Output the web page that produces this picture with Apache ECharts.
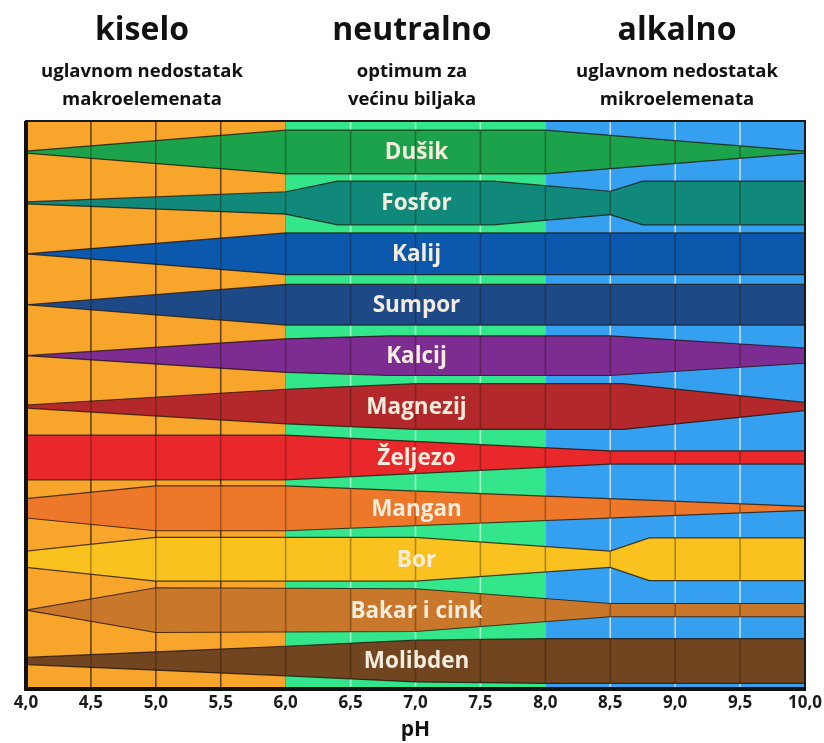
<!DOCTYPE html>
<html><head><meta charset="utf-8">
<script src="https://cdn.jsdelivr.net/npm/echarts@6/dist/echarts.min.js"></script>
<style>html,body{margin:0;padding:0;background:#fff}#c{width:824px;height:743px}</style>
</head><body><div id="c"></div>
<script>
// ---- data ----
const nutrients = ['Dušik','Fosfor','Kalij','Sumpor','Kalcij','Magnezij','Željezo','Mangan','Bor','Bakar i cink','Molibden'];
// [pH, half-width of availability band (fraction of a row)]
const profDusik    = [[4,0.02],[6,0.43],[8,0.43],[10,0.02]];
const profFosfor   = [[4,0.02],[6,0.22],[6.4,0.43],[7.6,0.43],[8.5,0.23],[8.75,0.43],[10,0.43]];
const profKalij    = [[4,0.0],[6,0.41],[10,0.41]];
const profSumpor   = [[4,0.0],[6,0.40],[10,0.40]];
const profKalcij   = [[4,0.0],[6,0.33],[6.8,0.39],[8.5,0.39],[10,0.15]];
const profMagnezij = [[4,0.03],[6,0.34],[7,0.45],[8.6,0.45],[10,0.08]];
const profZeljezo  = [[4,0.44],[6,0.44],[8.5,0.13],[10,0.13]];
const profMangan   = [[4,0.19],[5,0.44],[6,0.44],[10,0.04]];
const profBor      = [[4,0.16],[5,0.43],[7,0.43],[8.5,0.16],[8.8,0.42],[10,0.42]];
const profBakar    = [[4,0.0],[5,0.44],[7,0.42],[8.5,0.13],[10,0.13]];
const profMolibden = [[4,0.07],[5,0.18],[6,0.29],[7,0.41],[8,0.44],[10,0.44]];
const profiles = [profDusik,profFosfor,profKalij,profSumpor,profKalcij,profMagnezij,profZeljezo,profMangan,profBor,profBakar,profMolibden];
const zoneBounds = [4,6,8,10];
const zoneTitles = ['kiselo','neutralno','alkalno'];
const zoneNotes1 = ['uglavnom nedostatak','optimum za','uglavnom nedostatak'];
const zoneNotes2 = ['makroelemenata','većinu biljaka','mikroelemenata'];
const axisName = 'pH';

// ---- styles ----
const bandColors = ['#1ba24a','#10897a','#0c58ac','#1d4987','#7d2c92','#b3292b','#e9282b','#ed782a','#f9c21f','#c9772a','#704520'];
const zoneColors = ['#f8a52b','#33e68c','#36a0f0'];
const zoneLineColors = ['rgba(70,40,10,0.8)','rgba(200,255,220,0.75)','rgba(215,228,242,0.85)'];
const Y_MIN = -0.61, Y_MAX = 10.53, STEP = 0.5;
const FONT = '"Open Sans", "DejaVu Sans", sans-serif';

function hwAt(prof, x){
  for (let k=0;k<prof.length-1;k++){
    const a=prof[k], b=prof[k+1];
    if (x>=a[0] && x<=b[0]) return a[1]+(b[1]-a[1])*(x-a[0])/(b[0]-a[0]);
  }
  return 0;
}
function ticks(){ const t=[]; for(let v=4+STEP; v<10-1e-9; v+=STEP) t.push(+v.toFixed(2)); return t; }

const chart = echarts.init(document.getElementById('c'));
const graphics = [];
const centersPx = [142, 412, 677];
zoneTitles.forEach((t,i)=>{
  graphics.push({type:'text', style:{text:t, x:centersPx[i], y:31, textAlign:'center', textVerticalAlign:'middle', font:'700 32px '+FONT, fill:'#111'}});
  graphics.push({type:'text', style:{text:zoneNotes1[i], x:centersPx[i], y:72, textAlign:'center', textVerticalAlign:'middle', font:'700 18.5px '+FONT, fill:'#111'}});
  graphics.push({type:'text', style:{text:zoneNotes2[i], x:centersPx[i], y:100, textAlign:'center', textVerticalAlign:'middle', font:'700 18.5px '+FONT, fill:'#111'}});
});

chart.setOption({
  animation:false,
  backgroundColor:'#fff',
  graphic: graphics,
  grid:{left:26, right:19, top:121, bottom:55, containLabel:false, outerBoundsMode:'none'},
  xAxis:{type:'value', min:4, max:10, interval:STEP,
    axisLine:{show:false}, axisTick:{show:false}, splitLine:{show:false},
    axisLabel:{margin:7, color:'#1a1a1a', fontWeight:'bold', fontSize:17, fontFamily:FONT, showMinLabel:true, showMaxLabel:true,
      formatter:v=>v.toFixed(1).replace('.',',')},
    name:axisName, nameLocation:'middle', nameGap:32, nameTextStyle:{color:'#111', fontWeight:'bold', fontSize:21, fontFamily:FONT}},
  yAxis:{type:'value', min:Y_MIN, max:Y_MAX, inverse:true, show:false},
  series:[
    { type:'custom', z:1, silent:true, clip:true,
      data: zoneColors.map((c,i)=>[i]),
      renderItem:(params, api)=>{
        const i = api.value(0);
        const s = zoneBounds[i], e = zoneBounds[i+1];
        const p1 = api.coord([s, Y_MIN]), p2 = api.coord([e, Y_MAX]);
        const ch = [{type:'rect', shape:{x:p1[0], y:p1[1], width:p2[0]-p1[0], height:p2[1]-p1[1]}, style:{fill:zoneColors[i]}}];
        ticks().filter(v=>v>s+1e-9 && v<e-1e-9).forEach(v=>{
          const a = api.coord([v, Y_MIN]), b = api.coord([v, Y_MAX]);
          ch.push({type:'line', shape:{x1:a[0], y1:a[1], x2:b[0], y2:b[1]}, style:{stroke:zoneLineColors[i], lineWidth:1.6}});
        });
        if (i===0){
          const a = api.coord([6, Y_MIN]), b = api.coord([6, Y_MAX]);
          ch.push({type:'line', shape:{x1:a[0], y1:a[1], x2:b[0], y2:b[1]}, style:{stroke:'rgba(70,40,10,0.6)', lineWidth:1.2}});
        }
        return {type:'group', children:ch};
      }
    },
    { type:'custom', z:3, silent:true, clip:true,
      data: nutrients.map((n,i)=>[i]),
      renderItem:(params, api)=>{
        const i = api.value(0);
        const prof = profiles[i];
        const top = prof.map(p=>api.coord([p[0], i - p[1]]));
        const bot = prof.slice().reverse().map(p=>api.coord([p[0], i + p[1]]));
        const ch = [{type:'polygon', shape:{points: top.concat(bot)}, style:{fill:bandColors[i], stroke:'rgba(25,15,5,0.75)', lineWidth:1.2}}];
        ticks().forEach(v=>{
          const hw = hwAt(prof, v);
          if (hw > 0.02){
            const a = api.coord([v, i-hw+0.01]), b = api.coord([v, i+hw-0.01]);
            ch.push({type:'line', shape:{x1:a[0], y1:a[1], x2:b[0], y2:b[1]}, style:{stroke:'rgba(35,20,5,0.35)', lineWidth:1.6}});
          }
        });
        const c = api.coord([7, i]);
        ch.push({type:'text', style:{text:nutrients[i], x:c[0]+1, y:c[1]+1, textAlign:'center', textVerticalAlign:'middle', font:'700 22.5px '+FONT, fill:'#f4ecdc'}});
        return {type:'group', children:ch};
      }
    },
    { type:'custom', z:5, silent:true, clip:false,
      data:[[0]],
      renderItem:(params, api)=>{
        const cs = params.coordSys;
        return {type:'group', children:[
          {type:'rect', shape:{x:cs.x, y:cs.y, width:cs.width, height:cs.height}, style:{fill:null, stroke:'#1a1a1a', lineWidth:2}},
          {type:'line', shape:{x1:cs.x, y1:cs.y, x2:cs.x, y2:cs.y+cs.height}, style:{stroke:'#111', lineWidth:4}},
          {type:'line', shape:{x1:cs.x-2, y1:cs.y+cs.height+1, x2:cs.x+cs.width+1, y2:cs.y+cs.height+1}, style:{stroke:'#111', lineWidth:4}}
        ]};
      }
    }
  ]
});
</script></body></html>
